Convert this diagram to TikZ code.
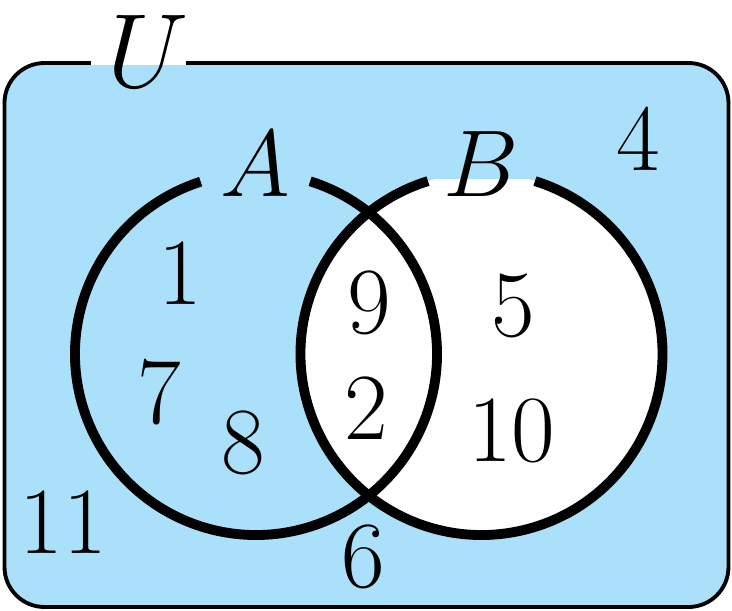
\RequirePackage{fix-cm}
\documentclass[tikz,border=0pt]{standalone}
\usepackage{amsmath}
\definecolor{vennblue}{RGB}{171,224,250}
\tikzstyle{universe} = [draw=black, fill=vennblue, line width=1.1pt, rounded corners=0.4cm]
\tikzstyle{setline} = [draw=black, line width=2.8pt]
\tikzstyle{elem} = [font=\fontsize{27}{32}\selectfont, inner sep=0pt]
\tikzstyle{setname} = [font=\fontsize{27}{32}\selectfont, fill=vennblue, anchor=south,
    inner xsep=0.15cm, inner ysep=0pt]
\tikzstyle{uname} = [setname, font=\fontsize{30}{36}\selectfont, fill=white,
    inner xsep=0.1cm]
\newcommand{\dropname}[2]{\raisebox{-#1}[0.5cm][0pt]{#2}}

\begin{document}
\begin{tikzpicture}
    \useasboundingbox (0,0) rectangle (7.32,6.11);
    \draw[universe] (0.045,0.04) rectangle (7.285,5.48);
    \coordinate (cA) at (2.56,2.57);
    \coordinate (cB) at (4.815,2.57);
    \fill[white] (cB) circle (1.81);
    \draw[setline] (cA) ++(107.8:1.81) arc[start angle=107.8, end angle=432.6, radius=1.81];
    \draw[setline] (cB) ++(107.2:1.81) arc[start angle=107.2, end angle=432.8, radius=1.81];
    \node[uname] (U) at (1.3875,5.455) {\dropname{0.225cm}{\hspace{0.06cm}$U$\hspace{-0.12cm}}};
    \node[setname] (A) at (2.55,4.31) {\dropname{0.17cm}{$A$}};
    \node[setname] (B) at (4.815,4.31) {\dropname{0.17cm}{$B$}};
    \node[elem] (e1) at (1.80,3.375) {$1$};
    \node[elem] (e7) at (1.595,2.185) {$7$};
    \node[elem] (e8) at (2.43,1.68) {$8$};
    \node[elem] (e9) at (3.695,3.08) {$9$};
    \node[elem] (e2) at (3.66,2.02) {$2$};
    \node[elem] (e5) at (5.135,3.055) {$5$};
    \node[elem] (e10) at (5.12,1.80) {$10$};
    \node[elem] (e4) at (6.385,4.71) {$4$};
    \node[elem] (e6) at (3.63,0.545) {$6$};
    \node[elem] (e11) at (0.635,0.88) {$11$};
\end{tikzpicture}
\end{document}
